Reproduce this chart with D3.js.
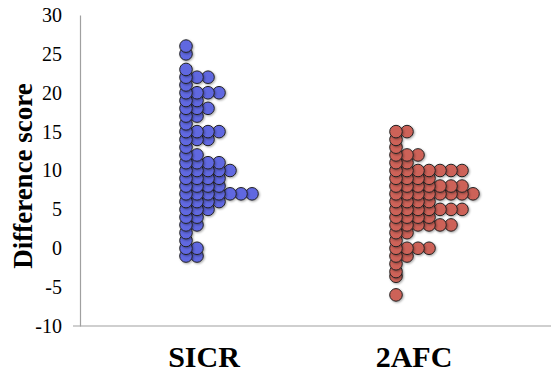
<!DOCTYPE html>
<html>
<head>
<meta charset="utf-8">
<script src="https://cdn.jsdelivr.net/npm/d3@7"></script>
<style>
  html, body { margin: 0; padding: 0; background: #fff; }
  svg { display: block; }
</style>
</head>
<body>
<svg id="chart" width="551" height="375"></svg>
<script>
// groups and their colours
const groups = ['SICR', '2AFC'];
const groupColors = ['#6167e0', '#cd6259'];

// difference scores: each value with how many participants got it
const sicrScores = [26, 25, 23, 22, 21, 20, 19, 18, 17, 16, 15, 14, 13, 12, 11, 10, 9, 8, 7, 6, 5, 4, 3, 2, 1, 0, -1];
const sicrCounts = [1, 1, 1, 3, 1, 4, 2, 3, 2, 1, 4, 3, 1, 2, 4, 5, 4, 4, 7, 4, 3, 2, 2, 1, 1, 2, 2];

const afcScores = [15, 14, 13, 12, 11, 10, 9, 8, 7, 6, 5, 4, 3, 2, 1, 0, -1, -2, -3, -3.6, -6];
const afcCounts = [2, 1, 1, 3, 2, 7, 4, 7, 8, 4, 7, 4, 6, 2, 1, 4, 2, 1, 1, 1, 1];

const yTicks = [-10, -5, 0, 5, 10, 15, 20, 25, 30];

const svg = d3.select('#chart'),
  width = +svg.attr('width'),
  height = +svg.attr('height');

const y = d3.scaleLinear().domain([-10, 30]).range([326, 15]);
const x = d3.scalePoint().domain(groups).range([204, 414]);
const color = d3.scaleOrdinal().domain(groups).range(groupColors);

const dotR = 6.3;
const colStep = 11;
const colStart = -18;
const serif = '"Liberation Serif", "Times New Roman", serif';

// expand into one dot per participant, stacked sideways by rank within a score
function expand(group, scores, counts) {
  const out = [];
  scores.forEach(function(s, i) {
    for (let k = 0; k < counts[i]; k++) {
      out.push({ group: group, score: s, col: k });
    }
  });
  return out;
}

const dots = expand('SICR', sicrScores, sicrCounts)
  .concat(expand('2AFC', afcScores, afcCounts));

// y axis
const yAxis = d3.axisLeft(y)
  .tickValues(yTicks)
  .tickFormat(function(d) { return String(d); })
  .tickSize(0)
  .tickPadding(18);

const gy = svg.append('g')
  .attr('transform', 'translate(80,0)')
  .call(yAxis);
gy.select('.domain').attr('stroke', '#a0a0a0').attr('stroke-width', 1.2);
gy.selectAll('text')
  .attr('font-family', serif)
  .attr('font-size', 20)
  .attr('fill', '#000');

// horizontal base line
svg.append('line')
  .attr('x1', 73).attr('x2', width)
  .attr('y1', y(-10)).attr('y2', y(-10))
  .attr('stroke', '#a0a0a0')
  .attr('stroke-width', 1.2);

// y title
svg.append('text')
  .attr('transform', 'translate(32,176) rotate(-90)')
  .attr('text-anchor', 'middle')
  .attr('font-family', serif)
  .attr('font-weight', 'bold')
  .attr('font-size', 27)
  .text('Difference score');

// category labels
svg.selectAll('.cat')
  .data(groups)
  .enter()
  .append('text')
  .attr('class', 'cat')
  .attr('x', function(d) { return x(d); })
  .attr('y', 367)
  .attr('text-anchor', 'middle')
  .attr('font-family', serif)
  .attr('font-weight', 'bold')
  .attr('font-size', 30)
  .text(function(d) { return d; });

// shadow
const defs = svg.append('defs');
const f = defs.append('filter').attr('id', 'sh').attr('x', '-50%').attr('y', '-50%').attr('width', '200%').attr('height', '200%');
f.append('feDropShadow').attr('dx', 1).attr('dy', 1).attr('stdDeviation', 0.8).attr('flood-color', '#000').attr('flood-opacity', 0.35);

// dots: draw rows bottom-up so upper rows sit on top like the original
dots.sort(function(a, b) { return a.score - b.score || b.col - a.col; });

svg.append('g')
  .selectAll('circle')
  .data(dots)
  .enter()
  .append('circle')
  .attr('cx', function(d) { return x(d.group) + colStart + d.col * colStep; })
  .attr('cy', function(d) { return y(d.score); })
  .attr('r', dotR)
  .attr('fill', function(d) { return color(d.group); })
  .attr('stroke', '#222')
  .attr('stroke-width', 1)
  .attr('filter', 'url(#sh)');
</script>
</body>
</html>
